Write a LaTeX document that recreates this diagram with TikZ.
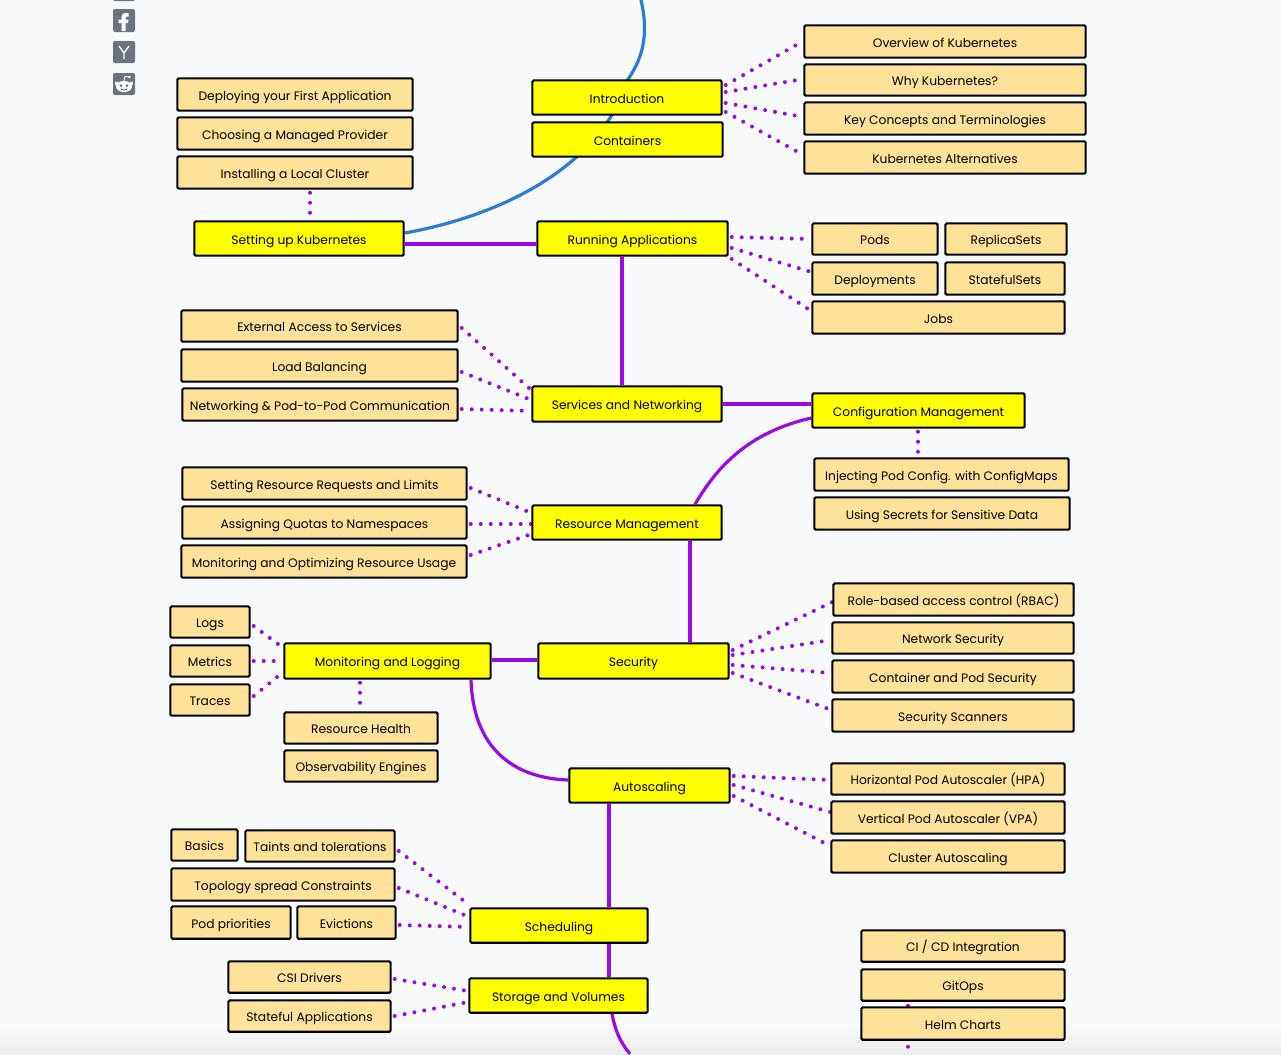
\documentclass[tikz,border=0pt]{standalone}
\usepackage{fontspec}
\setmainfont{Poppins}
\usetikzlibrary{backgrounds}
\definecolor{bgc}{HTML}{F9FAFC}
\definecolor{peach}{HTML}{FFE29A}
\definecolor{purp}{HTML}{9A0AE8}
\definecolor{blu}{HTML}{2F7BD8}
\definecolor{icon}{HTML}{6B7280}
\definecolor{yel}{RGB}{255,255,0}
\definecolor{shd}{HTML}{EBEBEC}
\tikzset{
 x=0.75pt,y=-0.75pt,
 bbase/.style={draw=black,line width=1.6pt,rounded corners=1pt,inner sep=0pt,text=black,align=center,text height=8.6pt,text depth=0pt,font=\fontsize{9.2}{11}\selectfont},
 topic/.style={bbase,fill=yel},
 sub/.style={bbase,fill=peach},
 link/.style={draw=purp,line width=2.4pt},
 slink/.style={draw=purp,line width=2.45pt},
 blink/.style={draw=blu,line width=2.4pt},
 dots/.style={draw=purp,line width=3pt,line cap=round,dash pattern=on 0pt off 7.5pt},
 ico/.style={fill=icon,rounded corners=1.5pt},
}
\newcommand\bx[7]{%
 \pgfmathsetmacro\bw{(#5-#3)*0.75-0.5}%
 \pgfmathsetmacro\bh{(#6-#4)*0.75-0.5}%
 \pgfmathsetmacro\bcx{(#3+#5)/2}%
 \pgfmathsetmacro\bcy{(#4+#6)/2}%
 \node[#2,minimum width=\bw pt,minimum height=\bh pt] (#1) at (\bcx,\bcy) {#7};}
\newcommand\dl[4]{\draw[dots] (#1.east |- 0,#2) ++(3,0) -- (#3.west |- 0,#4);}
\begin{document}
\begin{tikzpicture}
\useasboundingbox (0,0) rectangle (1281,1054);
\bx{deploy}{sub}{177}{78}{413}{111}{Deploying your First Application}
\bx{managed}{sub}{177}{117}{413}{150}{Choosing a Managed Provider}
\bx{local}{sub}{177}{156}{413}{189}{Installing a Local Cluster}
\bx{setup}{topic}{194}{221}{404}{256}{Setting up Kubernetes}
\bx{intro}{topic}{532}{80}{722}{115}{Introduction}
\bx{cont}{topic}{532}{122}{723}{157}{Containers}
\bx{run}{topic}{537}{221}{728}{256}{Running Applications}
\bx{over}{sub}{804}{25}{1086}{58}{Overview of Kubernetes}
\bx{why}{sub}{804}{64}{1086}{96}{Why Kubernetes?}
\bx{key}{sub}{804}{102}{1086}{135}{Key Concepts and Terminologies}
\bx{alt}{sub}{804}{141}{1086}{174}{Kubernetes Alternatives}
\bx{pods}{sub}{812}{223}{938}{255}{Pods}
\bx{rs}{sub}{945}{223}{1067}{255}{ReplicaSets}
\bx{depl}{sub}{812}{262}{938}{295}{Deployments}
\bx{sts}{sub}{945}{262}{1065}{295}{StatefulSets}
\bx{jobs}{sub}{812}{301}{1065}{334}{Jobs}
\bx{ext}{sub}{181}{310}{458}{342}{External Access to Services}
\bx{lb}{sub}{181}{349}{458}{382}{Load Balancing}
\bx{netp}{sub}{182}{388}{458}{421}{Networking \& Pod-to-Pod Communication}
\bx{svc}{topic}{532}{386}{722}{422}{Services and Networking}
\bx{cfg}{topic}{812}{393}{1025}{428}{Configuration Management}
\bx{inj}{sub}{814}{458}{1069}{491}{Injecting Pod Config. with ConfigMaps}
\bx{sec}{sub}{814}{497}{1070}{530}{Using Secrets for Sensitive Data}
\bx{req}{sub}{182}{467}{467}{500}{Setting Resource Requests and Limits}
\bx{quota}{sub}{182}{506}{467}{539}{Assigning Quotas to Namespaces}
\bx{opt}{sub}{181}{545}{467}{578}{Monitoring and Optimizing Resource Usage}
\bx{res}{topic}{532}{505}{722}{540}{Resource Management}
\bx{secu}{topic}{538}{643}{729}{679}{Security}
\bx{mon}{topic}{284}{643}{491}{679}{Monitoring and Logging}
\bx{logs}{sub}{170}{606}{250}{638}{Logs}
\bx{metr}{sub}{170}{645}{250}{677}{Metrics}
\bx{trac}{sub}{170}{684}{250}{716}{Traces}
\bx{heal}{sub}{284}{712}{438}{744}{Resource Health}
\bx{obs}{sub}{284}{750}{438}{782}{Observability Engines}
\bx{rbac}{sub}{833}{583}{1074}{616}{Role-based access control (RBAC)}
\bx{nets}{sub}{832}{622}{1074}{654}{Network Security}
\bx{cps}{sub}{832}{660}{1074}{693}{Container and Pod Security}
\bx{scan}{sub}{832}{699}{1074}{732}{Security Scanners}
\bx{auto}{topic}{569}{768}{730}{803}{Autoscaling}
\bx{hpa}{sub}{831}{763}{1065}{795}{Horizontal Pod Autoscaler (HPA)}
\bx{vpa}{sub}{831}{801}{1065}{834}{Vertical Pod Autoscaler (VPA)}
\bx{clus}{sub}{831}{840}{1065}{873}{Cluster Autoscaling}
\bx{basics}{sub}{171}{829}{238}{861}{Basics}
\bx{taint}{sub}{245}{830}{395}{862}{Taints and tolerations}
\bx{topo}{sub}{171}{868}{395}{901}{Topology spread Constraints}
\bx{prio}{sub}{171}{906}{291}{939}{Pod priorities}
\bx{evic}{sub}{297}{906}{396}{939}{Evictions}
\bx{sched}{topic}{470}{908}{648}{943}{Scheduling}
\bx{csi}{sub}{228}{961}{391}{993}{CSI Drivers}
\bx{stat}{sub}{228}{1000}{391}{1032}{Stateful Applications}
\bx{stor}{topic}{469}{978}{648}{1013}{Storage and Volumes}
\bx{cicd}{sub}{861}{930}{1065}{962}{CI / CD Integration}
\bx{gitops}{sub}{861}{969}{1065}{1001}{GitOps}
\bx{helm}{sub}{861}{1007}{1065}{1040}{Helm Charts}
\coordinate (topend) at (641,0);
\coordinate (botend) at (630,1054);
\coordinate (helmend) at (908,1047);
\begin{scope}[on background layer]
\fill[bgc] (0,0) rectangle (1281,1054);
\shade[top color=bgc,bottom color=shd] (0,1026) rectangle (1281,1054);
% social icons
\fill[ico] (113,-6) rectangle (135,1);
\fill[ico] (113,9) rectangle (135,32);
\fill[ico] (113,41) rectangle (135,63);
\fill[ico] (113,73) rectangle (135,95);
\fill[white] (128.5,13) -- (128.5,16.5) -- (126.5,16.5) .. controls (125.5,16.5) and (125.5,17.2) .. (125.5,18) -- (125.5,19.5) -- (128.5,19.5) -- (128,23) -- (125.5,23) -- (125.5,31) -- (121.5,31) -- (121.5,23) -- (118.5,23) -- (118.5,19.5) -- (121.5,19.5) -- (121.5,17) .. controls (121.5,14) and (123.5,13) .. (125.5,13) -- cycle;
\draw[white,line width=1pt] (119,46) -- (124,53) -- (129,46) (124,53) -- (124,59);
\fill[white] (124,86.5) ellipse [x radius=8,y radius=5.5];
\fill[white] (116.8,83.5) circle (2) (131.2,83.5) circle (2) (129.5,77) circle (1.4);
\draw[white,line width=0.7pt] (124,81) -- (125,76.5) -- (129.5,77);
\fill[icon] (121,85.5) circle (1.5) (127,85.5) circle (1.5);
\draw[icon,line width=0.7pt] (121,89) .. controls (123,90.5) and (125,90.5) .. (127,89);
% connectors
\draw[blink] (setup.east |- 0,233) .. controls (495,217) and (600,170) .. (intro.north -| 628,0) .. controls (645,55) and (648,30) .. (topend);
\draw[slink] (setup.east |- 0,244) -- (run.west |- 0,244);
\draw[slink] (run.south -| 622,0) -- (svc.north -| 622,0);
\draw[slink] (svc.east |- 0,404) -- (cfg.west |- 0,404);
\draw[link] (cfg.west |- 0,418) .. controls (750,432) and (718,465) .. (res.north -| 695,0);
\draw[slink] (res.south -| 690,0) -- (secu.north -| 690,0);
\draw[slink] (secu.west |- 0,660) -- (mon.east |- 0,660);
\draw[link] (mon.south -| 471,0) .. controls (473,745) and (510,778) .. (auto.west |- 0,780);
\draw[slink] (auto.south -| 609,0) -- (sched.north -| 609,0);
\draw[slink] (sched.south -| 609,0) -- (stor.north -| 609,0);
\draw[link] (stor.south -| 612,0) .. controls (615,1030) and (620,1042) .. (botend);
% dotted
\draw[dots] (local.south -| 310,0) ++(0,3) -- (setup.north -| 310,0);
\dl{intro}{85}{over}{41}
\dl{intro}{92}{why}{79}
\dl{intro}{103}{key}{117}
\dl{intro}{112}{alt}{155}
\dl{run}{237}{pods}{239}
\dl{run}{248}{depl}{272}
\dl{run}{259}{jobs}{311}
\dl{ext}{328}{svc}{390}
\dl{lb}{372}{svc}{400}
\dl{netp}{409}{svc}{411}
\draw[dots] (cfg.south -| 918,0) ++(0,3) -- (inj.north -| 918,0);
\dl{req}{488}{res}{513}
\dl{quota}{524}{res}{524}
\dl{opt}{555}{res}{534}
\dl{secu}{650}{rbac}{602}
\dl{secu}{655}{nets}{640}
\dl{secu}{665}{cps}{673}
\dl{secu}{673}{scan}{710}
\dl{logs}{626}{mon}{648}
\dl{metr}{661}{mon}{661}
\dl{trac}{696}{mon}{672}
\draw[dots] (mon.south -| 360,0) ++(0,3) -- (heal.north -| 360,0);
\dl{auto}{776}{hpa}{780}
\dl{auto}{785}{vpa}{812}
\dl{auto}{796}{clus}{846}
\dl{taint}{851}{sched}{905}
\dl{topo}{888}{sched}{917}
\dl{evic}{925}{sched}{927}
\dl{csi}{979}{stor}{991}
\dl{stat}{1016}{stor}{1002}
\draw[dots,dash pattern=on 0pt off 30.75pt] (gitops.south -| 908,0) ++(0,4) -- (helmend);
\end{scope}
\end{tikzpicture}
\end{document}
